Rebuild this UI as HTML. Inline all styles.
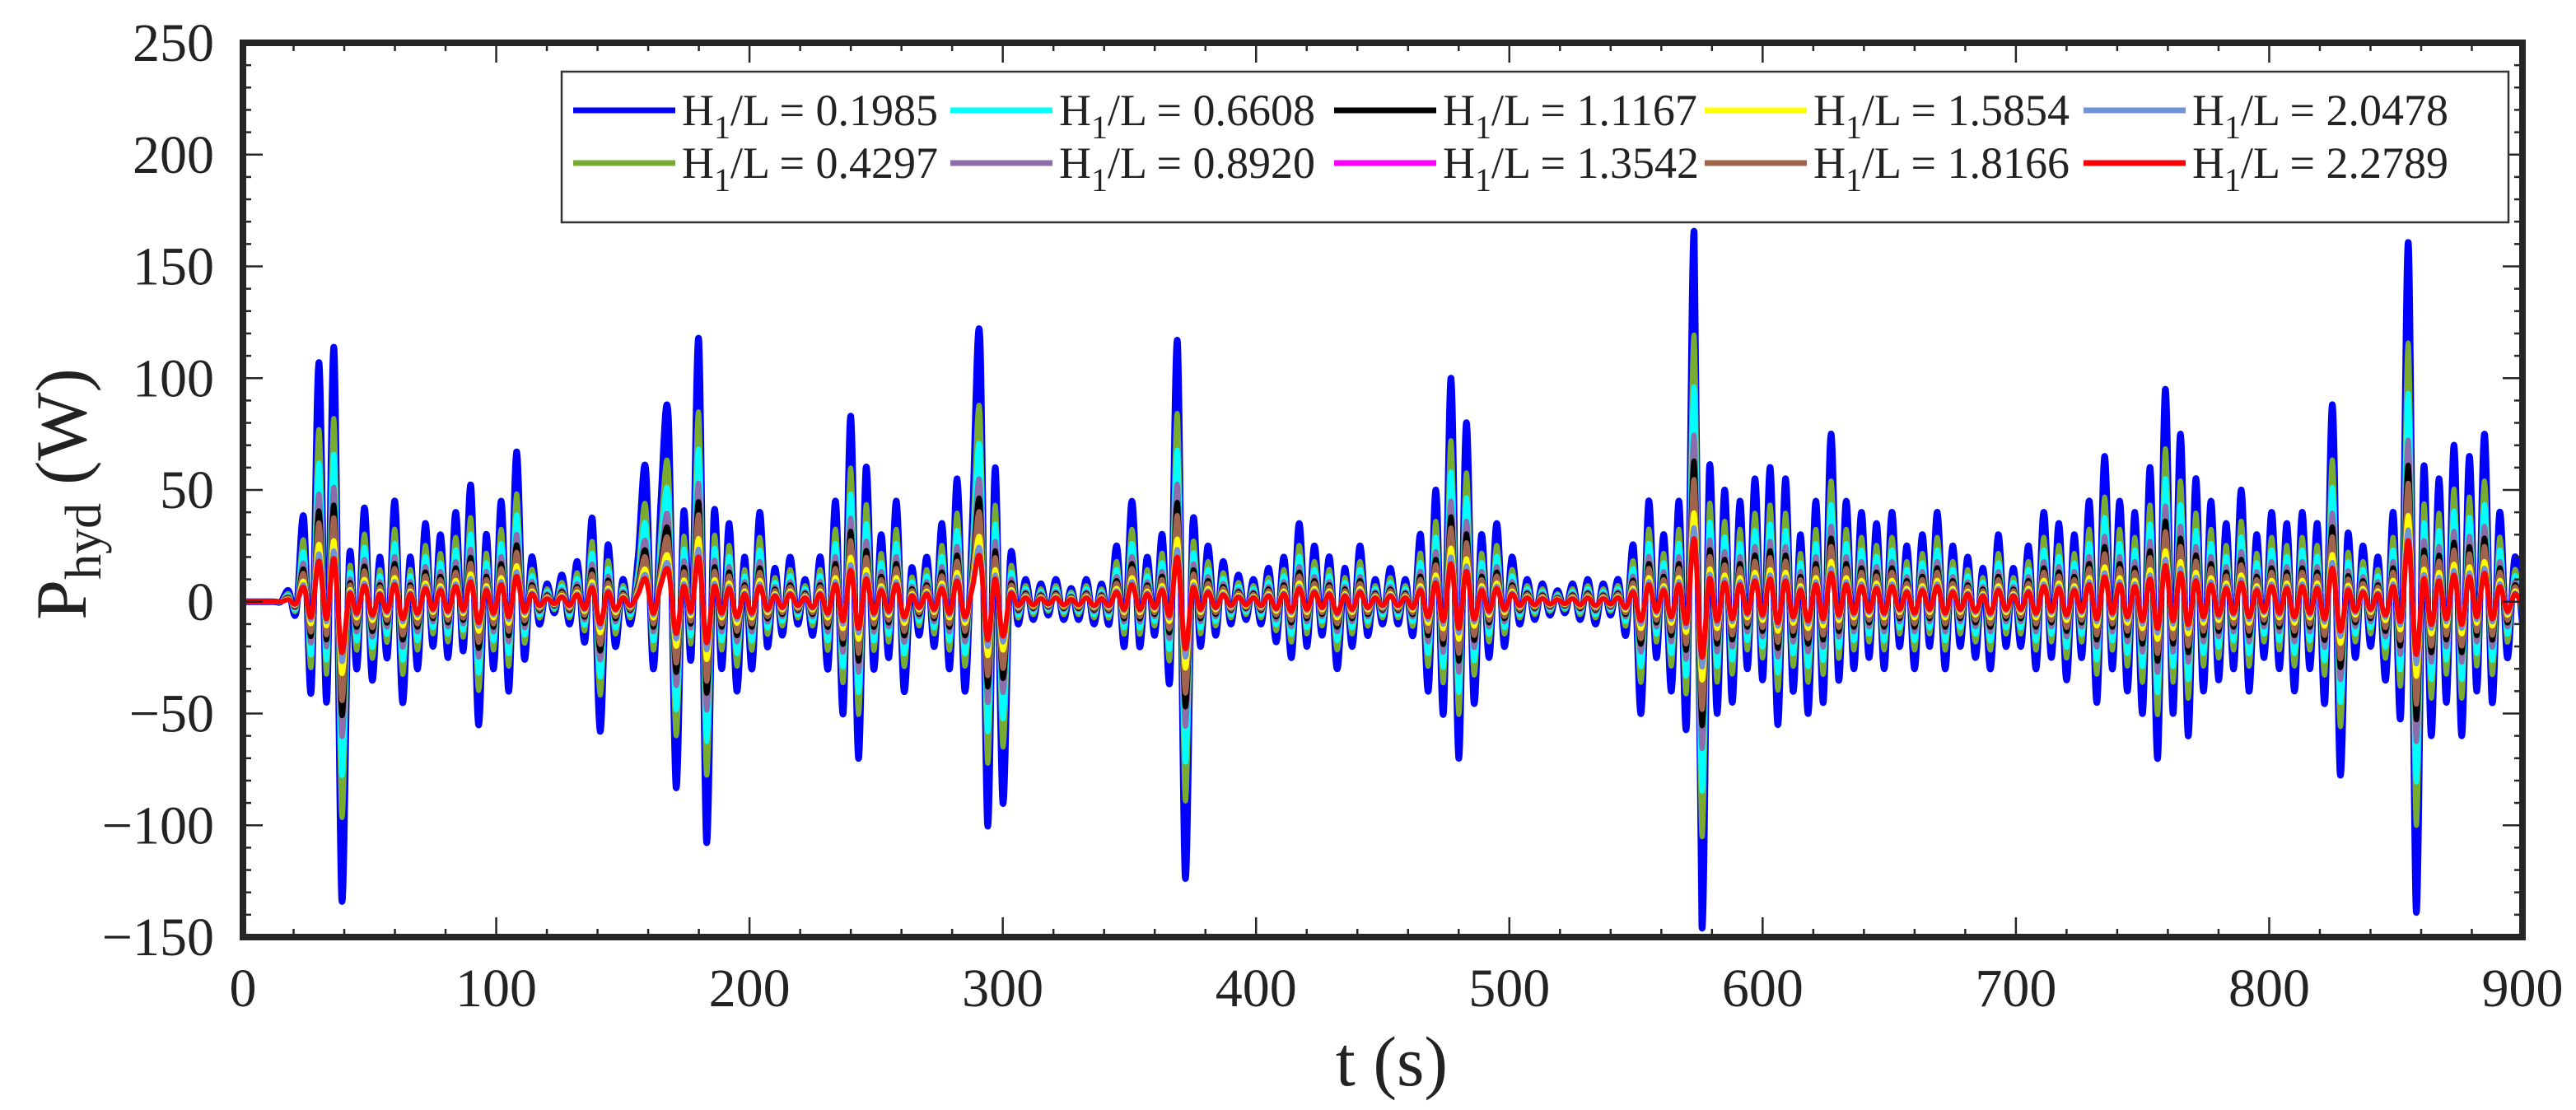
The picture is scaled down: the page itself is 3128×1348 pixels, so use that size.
<!DOCTYPE html>
<html><head><meta charset="utf-8"><style>
html,body{margin:0;padding:0;background:#fff;}
svg text{font-family:"Liberation Serif",serif;fill:#222;}
</style></head><body>
<svg id="chart" xmlns="http://www.w3.org/2000/svg" width="3128" height="1343" viewBox="0 0 3128 1343">
<g id="series"></g>
<g id="axes"></g>
<g id="legend"></g>
</svg>
<script>
// ---- data ----
const tStart = 18;
const tStep = 3;
const blueValues = [5,-5,38,-40,107,-45,113,-133,20,-30,42,-35,20,-25,45,-45,20,-30,35,-20,30,-25,40,-22,52,-55,30,-30,45,-40,67,-25,20,-10,8,-5,12,-10,18,-18,37,-58,25,-20,10,-10,20,60,-30,45,82,-83,40,-25,117,-107,40,-30,35,-40,20,-30,40,-20,15,-15,20,-10,10,-15,20,-30,45,-50,83,-70,60,-30,30,-25,45,-40,15,-15,20,-20,35,-30,55,-40,37,118,-100,60,-90,20,-10,10,-8,8,-6,10,-8,6,-8,10,-10,8,-10,25,-20,45,-20,20,-15,30,-35,116,-123,35,-20,25,-15,18,-10,12,-8,10,-10,15,-18,20,-25,35,-20,25,-15,20,-30,15,-20,25,-15,10,-10,15,-10,10,-15,30,-40,50,-50,100,-70,80,-45,30,-25,35,-20,20,-10,10,-8,8,-6,5,-5,8,-8,10,-10,8,-6,10,-15,25,-50,45,-25,30,-40,45,-55,165,-145,60,-50,50,-45,45,-30,55,-35,60,-55,55,-40,30,-50,45,-45,75,-35,45,-30,40,-25,35,-30,40,-20,25,-30,30,-20,40,-30,25,-20,20,-25,15,-30,30,-20,15,-20,25,-30,40,-25,35,-35,30,-25,45,-45,65,-30,45,-40,40,-50,60,-70,95,-50,75,-60,55,-40,45,-35,35,-30,50,-40,30,-25,40,-30,35,-40,40,-30,35,-45,88,-77,30,-25,25,-20,20,-35,40,-50,160,-138,60,-60,55,-45,70,-60,65,-40,75,-45,40,-25,20,-10];
const seriesLabels = ["0.1985","0.4297","0.6608","0.8920","1.1167","1.3542","1.5854","1.8166","2.0478","2.2789"];
const seriesColors = ["#0000ff","#77ac30","#00ffff","#8e6bab","#000000","#ff00ff","#ffff00","#a0644e","#7092d6","#ff0000"];
const seriesFactors = [1.0,0.72,0.58,0.45,0.38,0.30,0.24,0.33,0.20,0.17];
const drawOrder = [0,1,2,3,4,5,7,6,8,9];
const xTicks = [0,100,200,300,400,500,600,700,800,900];
const yTicks = [-150,-100,-50,0,50,100,150,200,250];

// ---- scales ----
const X0=295, X1=3063, Y0=1138, Y1=52;
const xS = t => X0 + (t-0)/(900-0)*(X1-X0);
const yS = v => Y0 - (v+150)/400*(Y0-Y1);
const NS="http://www.w3.org/2000/svg";
function mk(tag, attrs){const e=document.createElementNS(NS,tag);for(const k in attrs)e.setAttribute(k,attrs[k]);return e;}

// ---- series ----
const sg=document.getElementById('series');
const clip=mk('clipPath',{id:'pc'});clip.appendChild(mk('rect',{x:X0,y:Y1,width:X1-X0,height:Y0-Y1}));
document.getElementById('chart').appendChild(clip);
sg.setAttribute('clip-path','url(#pc)');
function pathFor(f){
  const pts=[[0,0],[tStart-6,0],[tStart-3,0]];
  blueValues.forEach((v,i)=>pts.push([tStart+i*tStep, v*f]));
  pts.push([900,0]);
  const P=pts.map(p=>[xS(p[0]),yS(p[1])]);
  let d='M'+P[0][0].toFixed(1)+','+P[0][1].toFixed(1);
  for(let i=0;i<P.length-1;i++){
    const p0=P[Math.max(0,i-1)],p1=P[i],p2=P[i+1],p3=P[Math.min(P.length-1,i+2)];
    const c1x=p1[0]+(p2[0]-p0[0])/6,c1y=p1[1]+(p2[1]-p0[1])/6;
    const c2x=p2[0]-(p3[0]-p1[0])/6,c2y=p2[1]-(p3[1]-p1[1])/6;
    d+='C'+c1x.toFixed(1)+','+c1y.toFixed(1)+' '+c2x.toFixed(1)+','+c2y.toFixed(1)+' '+p2[0].toFixed(1)+','+p2[1].toFixed(1);
  }
  return d;
}
drawOrder.forEach(i=>{
  const p=mk('path',{d:pathFor(seriesFactors[i]),fill:'none',stroke:seriesColors[i],'stroke-width':i===0?8:6,'stroke-linejoin':'round'});
  
  
  sg.appendChild(p);
});

// ---- axes ----
const ag=document.getElementById('axes');
const col='#262626';
for(let t=0;t<=900;t+=20){
  const major=t%100===0, L=major?24:10;
  ag.appendChild(mk('line',{x1:xS(t),x2:xS(t),y1:Y0,y2:Y0-L,stroke:col,'stroke-width':2.5}));
  ag.appendChild(mk('line',{x1:xS(t),x2:xS(t),y1:Y1,y2:Y1+L,stroke:col,'stroke-width':2.5}));
}
for(let v=-150;v<=250;v+=10){
  const major=v%50===0, L=major?24:10;
  ag.appendChild(mk('line',{x1:X0,x2:X0+L,y1:yS(v),y2:yS(v),stroke:col,'stroke-width':2.5}));
  ag.appendChild(mk('line',{x1:X1,x2:X1-L,y1:yS(v),y2:yS(v),stroke:col,'stroke-width':2.5}));
}
const frame=mk('rect',{x:X0,y:Y1,width:X1-X0,height:Y0-Y1,fill:'none',stroke:col,'stroke-width':8});


ag.appendChild(frame);
xTicks.forEach(t=>{
  const tx=mk('text',{x:xS(t),y:1222,'text-anchor':'middle','font-size':66});
  tx.textContent=t;
  
  
  ag.appendChild(tx);
});
yTicks.forEach(v=>{
  const tx=mk('text',{x:260,y:yS(v)+22,'text-anchor':'end','font-size':66});
  tx.textContent=(v<0?'\u2212'+(-v):v);
  
  
  ag.appendChild(tx);
});
const xt=mk('text',{x:1690,y:1318,'text-anchor':'middle','font-size':86});
xt.textContent='t (s)';


ag.appendChild(xt);
const yt=mk('text',{x:0,y:0,'text-anchor':'middle','font-size':88,transform:'translate(104,600) rotate(-90)'});
yt.innerHTML='P<tspan font-size="62" dy="18">hyd</tspan><tspan dy="-18"> (W)</tspan>';


ag.appendChild(yt);

// ---- legend ----
const lg=document.getElementById('legend');
const lbox=mk('rect',{x:682,y:87,width:2364,height:183,fill:'#fff',stroke:'#333','stroke-width':2.5});


lg.appendChild(lbox);
const colX=[696,1154,1620,2070,2530];
for(let i=0;i<10;i++){
  const c=Math.floor(i/2), r=i%2;
  const yy=r===0?134:198;
  const g=mk('g',{});
  
  
  g.appendChild(mk('line',{x1:colX[c],x2:colX[c]+124,y1:yy,y2:yy,stroke:seriesColors[i],'stroke-width':7}));
  const tx=mk('text',{x:colX[c]+132,y:yy+18,'font-size':54});
  tx.innerHTML='H<tspan font-size="40" dy="16">1</tspan><tspan dy="-16">/L = '+seriesLabels[i]+'</tspan>';
  g.appendChild(tx);
  lg.appendChild(g);
}
</script>
</body></html>
